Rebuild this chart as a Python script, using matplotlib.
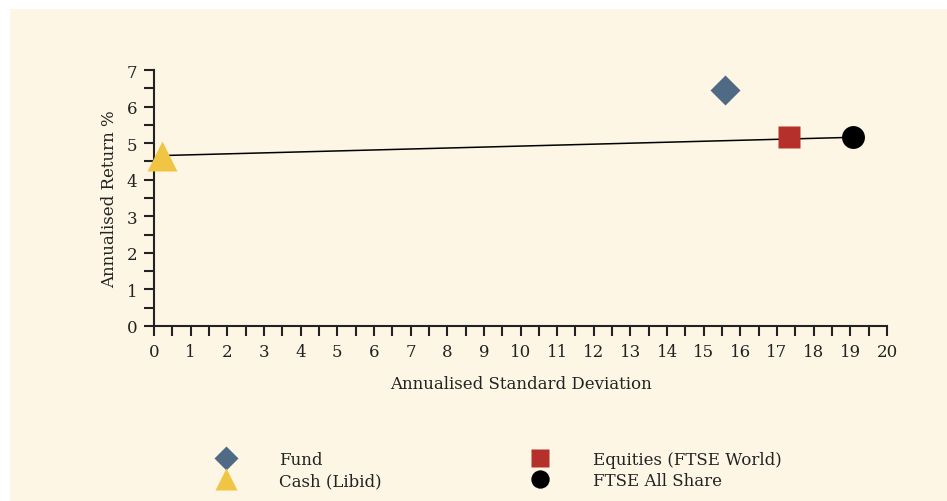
import matplotlib
matplotlib.use("Agg")
import matplotlib.pyplot as plt
from matplotlib.lines import Line2D
from matplotlib.patches import Rectangle
from matplotlib.ticker import MultipleLocator

# Data
names = ["Fund", "Cash (Libid)", "Equities (FTSE World)", "FTSE All Share"]
std_dev = [15.58, 0.21, 17.33, 19.08]
returns = [6.45, 4.66, 5.18, 5.16]
markers = ["D", "^", "s", "o"]
colors = ["#4f6a84", "#f0c543", "#b5302a", "#000000"]
sizes = [15.5, 21, 16, 16.5]
line_points = ["Cash (Libid)", "FTSE All Share"]

x_ticks = list(range(0, 21))
y_ticks = list(range(0, 8))

bg = "#fdf6e4"
txt = "#222222"
FS = 12
plt.rcParams['font.family'] = ['DejaVu Serif']

fig = plt.figure(figsize=(9.47, 5.02), dpi=100, facecolor="white")
fig.patches.append(Rectangle((10 / 947, 0), 1 - 10 / 947, 1 - 10 / 502,
                             transform=fig.transFigure, facecolor=bg,
                             edgecolor="none", zorder=-10))

ax = fig.add_axes([154 / 947, 1 - 327 / 502, (887 - 154) / 947, (327 - 71) / 502])
ax.patch.set_alpha(0)

# line between cash and FTSE All Share
i0, i1 = names.index(line_points[0]), names.index(line_points[1])
ax.plot([std_dev[i0], std_dev[i1]], [returns[i0], returns[i1]],
        color="black", lw=1.1, zorder=2)

handles = []
for n, x, y, m, c, s in zip(names, std_dev, returns, markers, colors, sizes):
    ax.plot([x], [y], marker=m, ms=s, color=c, mec="none", ls="none",
            zorder=3, clip_on=False)
    handles.append(Line2D([], [], marker=m, color=c, mec="none", ls="none",
                          ms=s * 0.8 if m != "^" else s * 0.75, label=n))

ax.set_xlim(0, 20)
ax.set_ylim(0, 7)
ax.set_xticks(x_ticks)
ax.set_yticks(y_ticks)
ax.xaxis.set_minor_locator(MultipleLocator(0.5))
ax.yaxis.set_minor_locator(MultipleLocator(0.5))
for s in ["top", "right"]:
    ax.spines[s].set_visible(False)
for s in ["left", "bottom"]:
    ax.spines[s].set_linewidth(1.5)
    ax.spines[s].set_color(txt)
ax.tick_params(which="both", direction="out", length=7, width=1.5, color=txt)
ax.tick_params(which="major", labelsize=FS, labelcolor=txt, pad=5)

ax.set_xlabel("Annualised Standard Deviation", fontsize=FS, color=txt, labelpad=11)
ax.set_ylabel("Annualised Return %", fontsize=FS, color=txt, labelpad=6)

fs_px = FS * 100 / 72
hl = 2.0
htp = (279 - 226 - hl * fs_px / 2) / fs_px
for cols, mx in (([0, 1], 226), ([2, 3], 540)):
    left = (mx - hl * fs_px / 2) / 947
    leg = fig.legend(handles=[handles[k] for k in cols],
                     loc="center left", bbox_to_anchor=(left, 1 - 471 / 502),
                     frameon=False, fontsize=FS, handlelength=hl,
                     handletextpad=htp, borderpad=0, borderaxespad=0,
                     labelspacing=0.25, labelcolor=txt)

fig.savefig("out.png", dpi=100, facecolor=fig.get_facecolor())
